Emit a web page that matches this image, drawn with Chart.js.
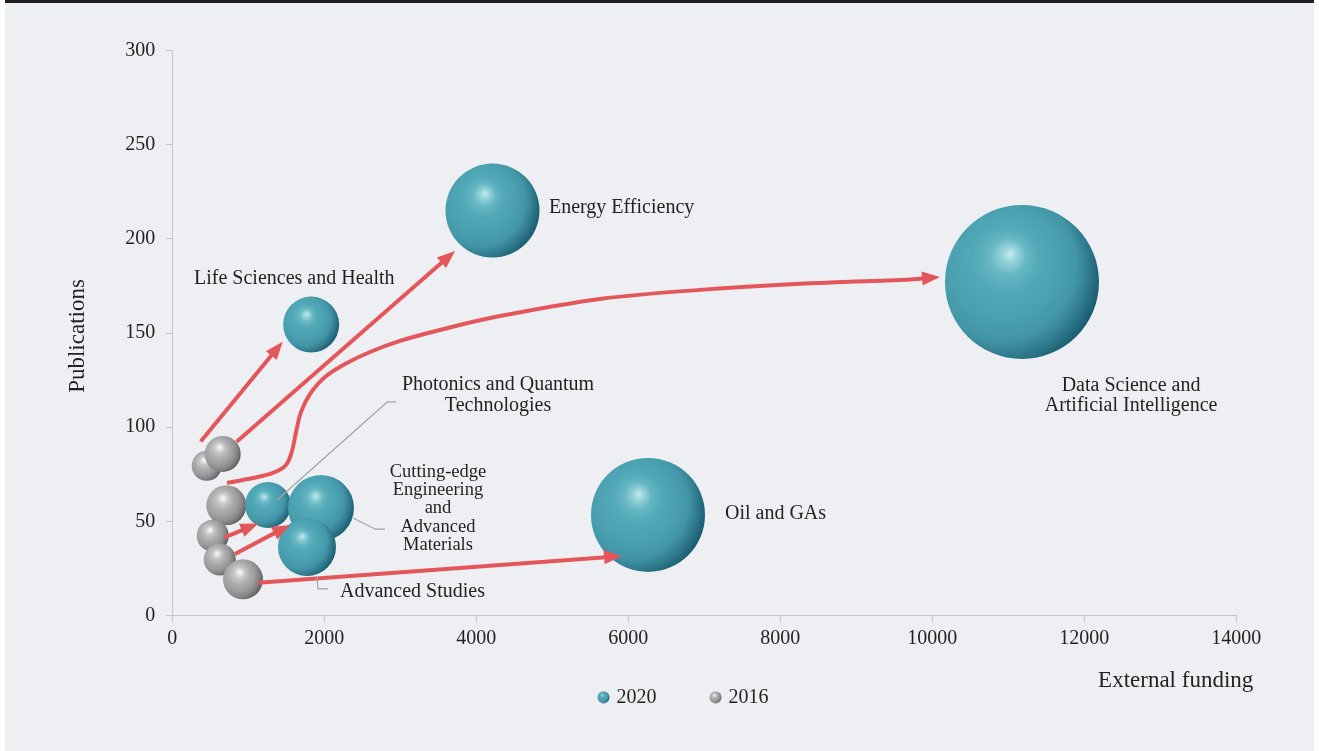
<!DOCTYPE html>
<html><head><meta charset="utf-8">
<script src="https://cdn.jsdelivr.net/npm/chart.js@4/dist/chart.umd.min.js"></script>
<style>
html,body{margin:0;padding:0;background:#ffffff;width:1319px;height:751px;overflow:hidden;}
#panel{position:absolute;left:5px;top:0;width:1309px;height:751px;background:#eeeff3;}
#bar{position:absolute;left:5px;top:0;width:1309px;height:3px;background:#231f20;}
canvas{position:absolute;left:0;top:0;}
</style></head><body>
<div id="panel"></div><div id="bar"></div>
<canvas id="c" width="1319" height="751"></canvas>
<script>
// ---------------- DATA ----------------
const categories = ['Life Sciences and Health','Energy Efficiency','Data Science and Artificial Intelligence','Photonics and Quantum Technologies','Cutting-edge Engineering and Advanced Materials','Advanced Studies','Oil and GAs'];
const funding2020      = [1827, 4213, 11180, 1259, 1956, 1772, 6259];
const publications2020 = [154.5, 215.0, 177.1, 58.7, 57.1, 36.4, 53.4];
const bubble2020       = [28, 47, 77, 23, 33, 29, 57];
const funding2016      = [453, 663, 711, 532, 624, null, 930];
const publications2016 = [79.5, 85.8, 58.5, 42.4, 29.8, null, 19.2];
const bubble2016       = [15, 18, 20, 16, 16, null, 20];
const seriesLabels = ['2020', '2016'];
const xTicksStep = 2000, xMax = 14000, yTicksStep = 50, yMax = 300;
const xTitle = 'External funding', yTitle = 'Publications';

// arrows (data units), one per category
const arrowFromX = [374, 847, 720, 680, 825, null, 1132];
const arrowFromY = [92.4, 92.3, 70.4, 41.3, 32.7, null, 17.4];
const arrowToX   = [1453, 3720, 10101, 1132, 1549, null, 5917];
const arrowToY   = [145.4, 193.6, 179.7, 48.9, 48.1, null, 31.6];
// curved path of the Data Science arrow (data units)
const curveViaX = [1062, 1325, 1496, 1575, 1628, 1693, 1811, 2009, 2272, 2601, 2996, 3522, 4311, 5628, 6943, 8259, 9575];
const curveViaY = [73.0, 75.7, 79.9, 87.3, 97.4, 108.0, 117.5, 126.6, 133.5, 139.9, 145.8, 151.6, 159.0, 168.1, 172.9, 176.1, 178.1];

// category labels (data-unit anchor: first-line baseline)
const labelLines = [['Life Sciences and Health'],['Energy Efficiency'],['Data Science and','Artificial Intelligence'],['Photonics and Quantum','Technologies'],['Cutting-edge','Engineering','and','Advanced','Materials'],['Advanced Studies'],['Oil and GAs']];
const labelX = [286, 4956, 12615, 4286, 3496, 2206, 7272];
const labelY = [176.0, 213.6, 119.3, 119.5, 73.7, 10.0, 51.0];
// leader lines (data units)
const leaderX = [[2946, 2828, 1378], [2378, 2667, 2799], [1904, 1917, 2049]];
const leaderY = [[113.4, 113.4, 61.3], [51.8, 45.9, 45.9], [20.4, 14.1, 14.1]];

// ---------------- STYLE ----------------
const FONT = "'Liberation Serif', 'DejaVu Serif', serif";
const TEXT = '#231f20';
const AXIS = '#c6c6c6';
const RED = '#e3575a';
const labelAlign = ['left','left','center','center','center','left','left'];
const labelSize = [20,20,20,20,18.5,20,20];
const labelLead = [0,0,20.3,20.5,18.3,0,0];
const TEAL_STOPS = [[0,'#c4eaee'],[0.07,'#98d4db'],[0.18,'#66b7c3'],[0.33,'#51a8b6'],[0.55,'#4aa0af'],[0.72,'#4295a6'],[0.85,'#317b8e'],[0.95,'#206578'],[1,'#1a5a6c']];
const GRAY_STOPS = [[0,'#ffffff'],[0.08,'#e8e8e8'],[0.22,'#c4c4c4'],[0.42,'#acacac'],[0.62,'#9c9c9c'],[0.8,'#858585'],[0.94,'#676767'],[1,'#575757']];

function sphereGradient(ctx, cx, cy, r, stops) {
  const g = ctx.createRadialGradient(cx - 0.15*r, cy - 0.37*r, 0, cx - 0.3*r, cy - 0.15*r, 1.34*r);
  stops.forEach(s => g.addColorStop(s[0], s[1]));
  return g;
}
function legendSphere(stops) {
  const cv = document.createElement('canvas');
  cv.width = 13; cv.height = 13;
  const c = cv.getContext('2d');
  c.fillStyle = sphereGradient(c, 6.5, 6.5, 6, stops);
  c.beginPath(); c.arc(6.5, 6.5, 6, 0, Math.PI*2); c.fill();
  return cv;
}
const legendImgs = [legendSphere(TEAL_STOPS), legendSphere(GRAY_STOPS)];

function makeData(xs, ys, rs) {
  const out = [];
  xs.forEach((v, i) => { if (v !== null) out.push({x: v, y: ys[i], r: rs[i]}); });
  return out;
}
function sphereColor(stops, flat) {
  return (c) => {
    const ch = c.chart;
    if (c.type !== 'data' || !ch.scales || !ch.scales.x || !c.raw) return flat;
    const cx = ch.scales.x.getPixelForValue(c.raw.x);
    const cy = ch.scales.y.getPixelForValue(c.raw.y);
    if (!isFinite(cx) || !isFinite(cy) || !isFinite(c.raw.r)) return flat;
    return sphereGradient(ch.ctx, cx, cy, c.raw.r, stops);
  };
}

// place legend: centre x and top of legend box
const legendPlace = {
  id: 'legendPlace',
  afterLayout(chart) {
    const lg = chart.legend;
    if (!lg) return;
    const cx = 684.5, top = 631.3;
    const dx = cx - (lg.left + lg.right) / 2, dy = top - lg.top;
    lg.left += dx; lg.right += dx; lg.top += dy; lg.bottom += dy;
  }
};

const overlay = {
  id: 'overlay',
  afterDatasetsDraw(chart) {
    const ctx = chart.ctx, sx = chart.scales.x, sy = chart.scales.y;
    const px = v => sx.getPixelForValue(v), py = v => sy.getPixelForValue(v);
    const L = 18, W = 7;
    ctx.save();
    ctx.strokeStyle = RED; ctx.fillStyle = RED; ctx.lineWidth = 4; ctx.lineCap = 'butt'; ctx.lineJoin = 'round';
    function head(tx, ty, ux, uy) {
      const bx = tx - ux*L, by = ty - uy*L;
      ctx.beginPath(); ctx.moveTo(tx, ty);
      ctx.lineTo(bx - uy*W, by + ux*W); ctx.lineTo(bx + uy*W, by - ux*W); ctx.closePath(); ctx.fill();
    }
    categories.forEach((cat, i) => {
      if (arrowFromX[i] === null) return;
      const x1 = px(arrowFromX[i]), y1 = py(arrowFromY[i]);
      const tx = px(arrowToX[i]), ty = py(arrowToY[i]);
      if (i === 2) {
        const pts = [[x1, y1]];
        curveViaX.forEach((v, k) => pts.push([px(v), py(curveViaY[k])]));
        const last = pts[pts.length - 1];
        let ux = tx - last[0], uy = ty - last[1]; const len = Math.hypot(ux, uy); ux /= len; uy /= len;
        pts.push([tx - ux*(L-2), ty - uy*(L-2)]);
        ctx.beginPath(); ctx.moveTo(pts[0][0], pts[0][1]);
        for (let k = 0; k < pts.length - 1; k++) {
          const p0 = pts[Math.max(k-1, 0)], p1 = pts[k], p2 = pts[k+1], p3 = pts[Math.min(k+2, pts.length-1)];
          ctx.bezierCurveTo(p1[0] + (p2[0]-p0[0])/6, p1[1] + (p2[1]-p0[1])/6,
                            p2[0] - (p3[0]-p1[0])/6, p2[1] - (p3[1]-p1[1])/6, p2[0], p2[1]);
        }
        ctx.stroke();
        head(tx, ty, ux, uy);
      } else {
        let ux = tx - x1, uy = ty - y1; const len = Math.hypot(ux, uy); ux /= len; uy /= len;
        ctx.beginPath(); ctx.moveTo(x1, y1); ctx.lineTo(tx - ux*(L-2), ty - uy*(L-2)); ctx.stroke();
        head(tx, ty, ux, uy);
      }
    });
    // leader lines
    ctx.strokeStyle = '#a3a3a3'; ctx.lineWidth = 1.2;
    leaderX.forEach((xs, i) => {
      ctx.beginPath();
      xs.forEach((v, k) => { const X = px(v), Y = py(leaderY[i][k]); if (k === 0) ctx.moveTo(X, Y); else ctx.lineTo(X, Y); });
      ctx.stroke();
    });
    // labels
    ctx.fillStyle = TEXT; ctx.textBaseline = 'alphabetic';
    labelLines.forEach((lines, i) => {
      ctx.font = labelSize[i] + 'px ' + FONT;
      ctx.textAlign = labelAlign[i];
      const X = px(labelX[i]), Y = py(labelY[i]);
      lines.forEach((t, k) => ctx.fillText(t, X, Y + k*labelLead[i]));
    });
    // axis titles
    ctx.font = '23px ' + FONT;
    ctx.textAlign = 'right';
    ctx.fillText(xTitle, chart.chartArea.right + 17, 687);
    ctx.save();
    ctx.translate(84, (chart.chartArea.top + chart.chartArea.bottom) / 2 + 3);
    ctx.rotate(-Math.PI/2);
    ctx.textAlign = 'center';
    ctx.fillText(yTitle, 0, 0);
    ctx.restore();
    ctx.restore();
  }
};

new Chart(document.getElementById('c'), {
  type: 'bubble',
  data: {
    datasets: [
      { label: seriesLabels[0], data: makeData(funding2020, publications2020, bubble2020),
        backgroundColor: sphereColor(TEAL_STOPS, '#4ca3b2'), borderWidth: 0, hoverBorderWidth: 0, hoverRadius: 0, clip: false },
      { label: seriesLabels[1], data: makeData(funding2016, publications2016, bubble2016),
        backgroundColor: sphereColor(GRAY_STOPS, '#b3b3b3'), borderWidth: 0, hoverBorderWidth: 0, hoverRadius: 0, clip: false }
    ]
  },
  options: {
    responsive: false,
    animation: false,
    events: [],
    layout: { autoPadding: false, padding: { left: 100, right: 82.7, top: 50.5, bottom: 4.5 } },
    scales: {
      x: {
        type: 'linear', min: 0, max: xMax,
        ticks: { stepSize: xTicksStep, color: TEXT, font: { family: FONT, size: 20 }, padding: 4, maxRotation: 0,
                 callback: v => String(v) },
        grid: { drawOnChartArea: false, color: AXIS, tickLength: 7, lineWidth: 1 },
        border: { color: AXIS, width: 1 },
        afterFit(s) { s.height = 45; }
      },
      y: {
        type: 'linear', min: 0, max: yMax,
        ticks: { stepSize: yTicksStep, color: TEXT, font: { family: FONT, size: 20 }, padding: 11,
                 callback: v => String(v) },
        grid: { drawOnChartArea: false, color: AXIS, tickLength: 6, lineWidth: 1 },
        border: { color: AXIS, width: 1 },
        afterFit(s) { s.width = 72.3; }
      }
    },
    plugins: {
      tooltip: { enabled: false },
      legend: {
        position: 'bottom',
        labels: {
          usePointStyle: true, boxWidth: 6, padding: 56, color: TEXT,
          font: { family: FONT, size: 20 },
          generateLabels: (chart) => chart.data.datasets.map((ds, i) => ({
            text: ds.label, pointStyle: legendImgs[i], fillStyle: 'transparent', strokeStyle: 'transparent',
            lineWidth: 0, hidden: false, datasetIndex: i, fontColor: TEXT
          }))
        }
      }
    }
  },
  plugins: [legendPlace, overlay]
});
</script>
</body></html>
